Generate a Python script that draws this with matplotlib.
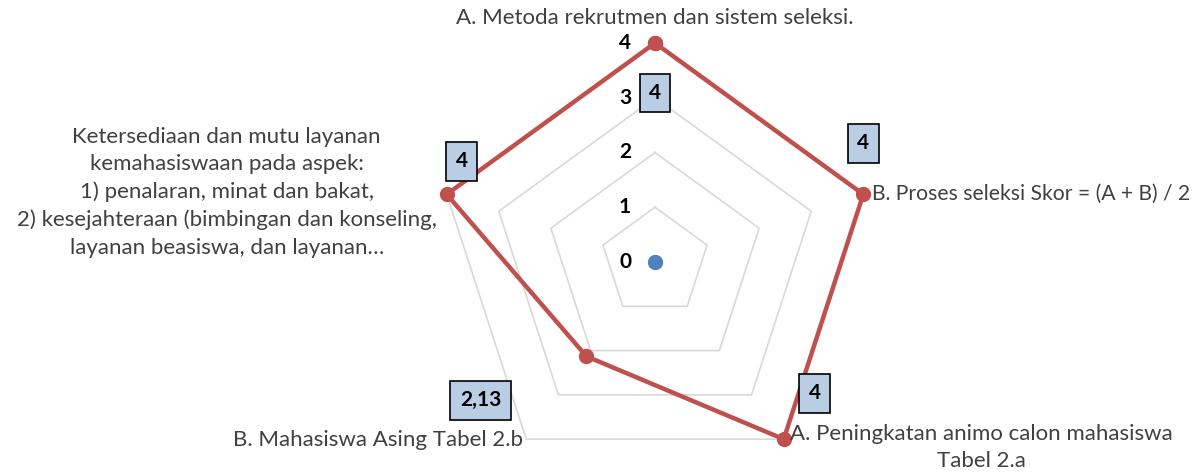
import numpy as np
import matplotlib
matplotlib.use("Agg")
import matplotlib.pyplot as plt

# data
categories = [
    "A. Metoda rekrutmen dan sistem seleksi.",
    "B. Proses seleksi Skor = (A + B) / 2",
    "A. Peningkatan animo calon mahasiswa\nTabel 2.a",
    "B. Mahasiswa Asing Tabel 2.b",
    "Ketersediaan dan mutu layanan\nkemahasiswaan pada aspek:\n1) penalaran, minat dan bakat,\n"
    "2) kesejahteraan (bimbingan dan konseling,\nlayanan beasiswa, dan layanan…",
]
scores = [4, 4, 4, 2.13, 4]
score_labels = ["4", "4", "4", "2,13", "4"]
ticks = [0, 1, 2, 3, 4]

plt.rcParams['font.family'] = ['Lato', 'DejaVu Sans']

W, H = 1203, 472
fig = plt.figure(figsize=(W / 100, H / 100), dpi=100)
cx, cy, R = 655, 472 - 262, 219
ax = fig.add_axes([(cx - R) / W, (cy - R) / H, 2 * R / W, 2 * R / H], projection='polar')
ax.set_theta_offset(np.pi / 2)
ax.set_theta_direction(-1)
ax.set_ylim(0, 4)
ax.axis('off')

n = len(categories)
theta = np.arange(n) * 2 * np.pi / n
theta_closed = np.append(theta, theta[0])

# grid pentagons
for t in ticks[1:]:
    ax.plot(theta_closed, [t] * (n + 1), color='#D9D9D9', lw=1.2, zorder=1, clip_on=False)

# data series
vals = np.append(scores, scores[0])
ax.plot(theta_closed, vals, color='#C0504D', lw=3.2, marker='o', ms=10, zorder=3, clip_on=False)
ax.plot([0], [0], marker='o', ms=10, color='#4F81BD', zorder=3, clip_on=False)

# radial tick labels
for t in ticks:
    ax.annotate(str(t), (0, t), xytext=(-30, 0), textcoords='offset pixels',
                ha='center', va='center', fontsize=15, fontweight='bold')

# value labels
label_offsets = [(0, -50), (0, 51), (31, 46), (-106, -44), (15, 33)]
for th, v, lab, off in zip(theta, scores, score_labels, label_offsets):
    ax.annotate(lab, (th, v), xytext=off, textcoords='offset pixels',
                ha='center', va='center', fontsize=15, fontweight='bold', zorder=5,
                bbox=dict(boxstyle='square,pad=0.45', fc='#B9CDE5', ec='black', lw=1.2))

# category labels
cat_offsets = [(0, 25), (9, 0), (198, -8), (-3, -1), (-220, 2)]
cat_ha = ['center', 'left', 'center', 'right', 'center']
cat_size = [16, 15.2, 16, 16, 16]
for th, lab, off, ha, fs in zip(theta, categories, cat_offsets, cat_ha, cat_size):
    ax.annotate(lab, (th, 4), xytext=off, textcoords='offset pixels',
                ha=ha, va='center', multialignment='center', fontsize=fs,
                color='#404040', linespacing=1.45, annotation_clip=False)

fig.savefig('out.png', dpi=100)
